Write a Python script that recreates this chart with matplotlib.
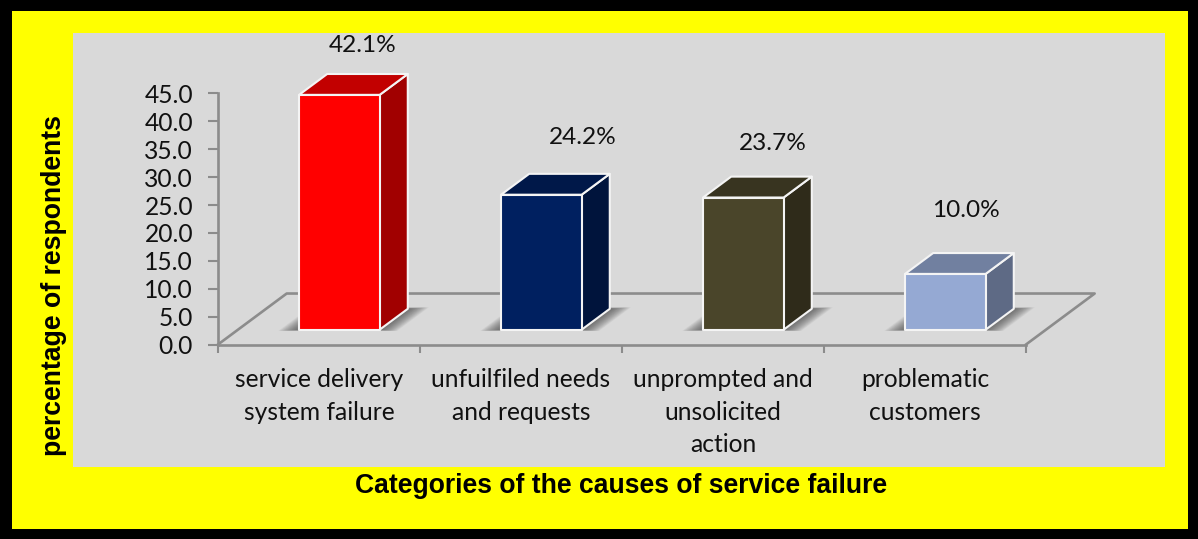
"""3-D style column chart: causes of service failure."""

import matplotlib

matplotlib.use("Agg")
import matplotlib.pyplot as plt
from matplotlib.colors import to_rgb
from matplotlib.patches import Polygon, Rectangle

W, H = 1198, 539

categories = [
    "service delivery\nsystem failure",
    "unfuilfiled needs\nand requests",
    "unprompted and\nunsolicited\naction",
    "problematic\ncustomers",
]
values = [42.1, 24.2, 23.7, 10.0]
labels = ["42.1%", "24.2%", "23.7%", "10.0%"]
yticks = [0, 5, 10, 15, 20, 25, 30, 35, 40, 45]

colors = ["#ff0000", "#002060", "#4a452a", "#95a9d3"]
label_offsets = [(24, 49), (42, 57), (30, 54), (21, 63)]  # px from front top centre

# oblique projection, floor depth in data units
DEPTH_X = 0.34
DEPTH_Y = 9.14
BAR_W = 0.399
BAR_SHIFT = 0.002
BAR_START = 0.29
BAR_DEPTH = 0.41
GREY = "#8c8c8c"

plt.rcParams["font.family"] = ["Lato", "DejaVu Sans"]


def proj(x, y, d):
    return (x + d * DEPTH_X, y + d * DEPTH_Y)


def px_rect(fig, x0, y0, x1, y1, color):
    fig.add_artist(Rectangle((x0 / W, 1 - y1 / H), (x1 - x0) / W, (y1 - y0) / H,
                             transform=fig.transFigure, color=color, lw=0, zorder=-10))


def draw_shadow(ax, x0, x1, d0, d1):
    # stacked translucent footprints stand in for the soft blur
    layers = 20
    for i in range(layers):
        grow = 0.095 * (1 - i / layers)
        pts = [proj(x0 - grow, 0, d0 - grow * 0.25),
               proj(x1 + grow, 0, d0 - grow * 0.25),
               proj(x1 + grow, 0, d1 + grow * 0.3),
               proj(x0 - grow, 0, d1 + grow * 0.3)]
        ax.add_patch(Polygon(pts, closed=True, fc="#404040", ec="none", alpha=0.05,
                             zorder=2, clip_on=False))


def draw_bar(ax, i, val, color):
    x0 = i + 0.5 + BAR_SHIFT - BAR_W / 2
    x1 = x0 + BAR_W
    d0 = BAR_START
    d1 = BAR_START + BAR_DEPTH
    rgb = to_rgb(color)
    side = tuple(c * 0.63 for c in rgb)
    top = tuple(c * 0.76 for c in rgb)
    draw_shadow(ax, x0, x1, d0, d1)
    faces = [
        ([proj(x1, 0, d0), proj(x1, 0, d1), proj(x1, val, d1), proj(x1, val, d0)], side),
        ([proj(x0, val, d0), proj(x1, val, d0), proj(x1, val, d1), proj(x0, val, d1)], top),
        ([proj(x0, 0, d0), proj(x1, 0, d0), proj(x1, val, d0), proj(x0, val, d0)], color),
    ]
    for pts, fc in faces:
        ax.add_patch(Polygon(pts, closed=True, fc=fc, ec="#f4f4f4", lw=1.5,
                             joinstyle="round", zorder=3, clip_on=False))
    return proj(i + 0.5, val, d0)


def main():
    fig = plt.figure(figsize=(W / 100, H / 100), dpi=100, facecolor="black")
    px_rect(fig, 12, 11, 1188, 529, "#ffff00")
    px_rect(fig, 73, 33, 1165, 467, "#d9d9d9")

    ax = fig.add_axes([218 / W, 1 - 344.5 / H, 808 / W, 251 / H])
    ax.patch.set_visible(False)
    ax.set_xlim(0, len(values))
    ax.set_ylim(0, 45)

    for s in ("top", "right"):
        ax.spines[s].set_visible(False)
    for s in ("left", "bottom"):
        ax.spines[s].set_color(GREY)
        ax.spines[s].set_linewidth(1.9)

    ax.set_yticks(yticks)
    ax.set_yticklabels([f"{t:.1f}" for t in yticks], fontsize=17.7, color="#111111")
    ax.tick_params(axis="y", length=7, width=1.5, color=GREY, pad=11)
    ax.set_xticks(range(len(values) + 1))
    ax.set_xticklabels([])
    ax.tick_params(axis="x", which="major", length=6, width=1.5, color=GREY)
    ax.set_xticks([i + 0.5 for i in range(len(values))], minor=True)
    ax.set_xticklabels(categories, minor=True, fontsize=17.7, color="#111111", linespacing=1.5)
    ax.tick_params(axis="x", which="minor", length=0, pad=17)

    # floor outline
    n = len(values)
    floor = [proj(0, 0, 0), proj(0, 0, 1), proj(n, 0, 1), proj(n, 0, 0)]
    ax.plot(*zip(*floor), color=GREY, lw=1.9, zorder=1, clip_on=False)

    for i, (v, c, lab, off) in enumerate(zip(values, colors, labels, label_offsets)):
        anchor = draw_bar(ax, i, v, c)
        ax.annotate(lab, anchor, xytext=off, textcoords="offset pixels", ha="center",
                    va="center", fontsize=17.6, color="#111111", annotation_clip=False, zorder=5)

    fig.text(54 / W, 1 - 286 / H, "percentage of respondents", rotation=90, ha="center",
             va="center", fontsize=19.2, fontweight="bold", family="Liberation Sans")
    fig.text(621 / W, 1 - 486 / H, "Categories of the causes of service failure", ha="center",
             va="center", fontsize=19.1, fontweight="bold", family="Liberation Sans")

    fig.savefig("out.png", dpi=100, facecolor=fig.get_facecolor())


if __name__ == "__main__":
    main()
